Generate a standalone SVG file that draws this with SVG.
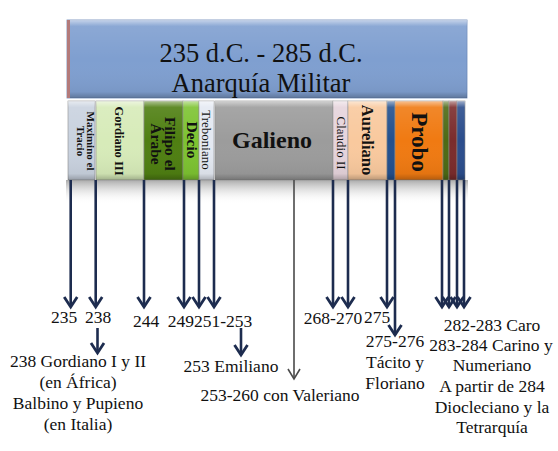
<svg xmlns="http://www.w3.org/2000/svg" width="558" height="451" viewBox="0 0 558 451">
<style>
  .lbl{font-family:"Liberation Serif","Times New Roman",serif;font-size:17.5px;fill:#111;}
  .seg{stroke:#8a8a8a;stroke-width:0.6;}
  .vt{font-family:"Liberation Serif","Times New Roman",serif;fill:#111;text-anchor:middle;}
  .arr{stroke:#1d2c4f;stroke-width:2.6;fill:none;marker-end:url(#ah);}
  .ttl{font-family:"Liberation Serif","Times New Roman",serif;font-size:26.5px;fill:#111;text-anchor:middle;}
</style>
<defs>
  <linearGradient id="gloss" x1="0" y1="0" x2="0" y2="1">
    <stop offset="0" stop-color="#fff" stop-opacity="0.55"/>
    <stop offset="0.08" stop-color="#fff" stop-opacity="0.1"/>
    <stop offset="0.5" stop-color="#fff" stop-opacity="0"/>
    <stop offset="0.92" stop-color="#000" stop-opacity="0.05"/>
    <stop offset="1" stop-color="#000" stop-opacity="0.25"/>
  </linearGradient>
  <linearGradient id="shadow" x1="0" y1="0" x2="0" y2="1">
    <stop offset="0" stop-color="#8f8f8f" stop-opacity="0.75"/>
    <stop offset="1" stop-color="#ffffff" stop-opacity="0"/>
  </linearGradient>
  <marker id="ah" markerUnits="userSpaceOnUse" markerWidth="20" markerHeight="20" orient="auto" refX="0" refY="0" overflow="visible">
    <path d="M-10,-6.5 L0,0 L-10,6.5" fill="none" stroke="#1d2c4f" stroke-width="2.8" stroke-linejoin="miter"/>
  </marker>
  <marker id="ahg" markerUnits="userSpaceOnUse" markerWidth="20" markerHeight="20" orient="auto" refX="0" refY="0" overflow="visible">
    <path d="M-10,-6 L0,0 L-10,6" fill="none" stroke="#4a4a4a" stroke-width="1.6"/>
  </marker>
</defs>
<rect width="558" height="451" fill="#fff"/>

<!-- shadow beneath bar -->
<rect x="66" y="180" width="402" height="24" fill="url(#shadow)"/>

<g id="title">
  <rect x="67" y="20" width="400" height="78" fill="#7f9fd0" stroke="#6d89b8" stroke-width="0.8"/>
  <rect x="67" y="20" width="400" height="78" fill="url(#gloss)"/>
  <rect x="67" y="20" width="3" height="78" fill="#b37a7a"/>
  <text class="ttl" x="261" y="62">235 d.C. - 285 d.C.</text>
  <text class="ttl" x="261" y="92">Anarquía Militar</text>
</g>

<g id="maximino">
  <rect class="seg" x="68" y="101" width="27" height="79" fill="#c9d2df"/>
  <rect x="68" y="101" width="27" height="79" fill="url(#gloss)"/>
  <g transform="translate(86,141) rotate(90)"><text class="vt" font-size="11" font-weight="bold" y="-1">Maximino el</text><text class="vt" font-size="11" font-weight="bold" y="9">Tracio</text></g>
</g>
<g id="gordiano3">
  <rect class="seg" x="96" y="101" width="48" height="79" fill="#d7ebb9"/>
  <rect x="96" y="101" width="48" height="79" fill="url(#gloss)"/>
  <text class="vt" font-size="12.5" font-weight="bold" transform="translate(115,141) rotate(90)">Gordiano III</text>
</g>
<g id="filipo">
  <rect class="seg" x="144" y="101" width="39" height="79" fill="#4f7f12"/>
  <rect x="144" y="101" width="39" height="79" fill="url(#gloss)"/>
  <g transform="translate(163,144) rotate(90)"><text class="vt" font-size="15.5" font-weight="bold" y="-2">Filipo el</text><text class="vt" font-size="15.5" font-weight="bold" y="12">Árabe</text></g>
</g>
<g id="decio">
  <rect class="seg" x="183" y="101" width="16" height="79" fill="#7dc331"/>
  <rect x="183" y="101" width="16" height="79" fill="url(#gloss)"/>
  <text class="vt" font-size="15.5" font-weight="bold" transform="translate(187,140) rotate(90)">Decio</text>
</g>
<g id="treboniano">
  <rect class="seg" x="199" y="101" width="15" height="79" fill="#e4e9f2"/>
  <rect x="199" y="101" width="15" height="79" fill="url(#gloss)"/>
  <text class="vt" font-size="13" transform="translate(202,140) rotate(90)">Treboniano</text>
</g>
<g id="galieno">
  <rect class="seg" x="215" y="101" width="118" height="79" fill="#9c9c9c"/>
  <rect x="215" y="101" width="118" height="79" fill="url(#gloss)"/>
  <text class="vt" x="272" y="148" font-size="24" font-weight="bold">Galieno</text>
</g>
<g id="claudio">
  <rect class="seg" x="333" y="101" width="15" height="79" fill="#e6d4dc"/>
  <rect x="333" y="101" width="15" height="79" fill="url(#gloss)"/>
  <text class="vt" font-size="13" transform="translate(337,143) rotate(90)">Claudio II</text>
</g>
<g id="aureliano">
  <rect class="seg" x="348" y="101" width="39" height="79" fill="#f9c99e"/>
  <rect x="348" y="101" width="39" height="79" fill="url(#gloss)"/>
  <text class="vt" font-size="16.5" font-weight="bold" transform="translate(362,140) rotate(90)">Aureliano</text>
</g>
<g id="tacito">
  <rect class="seg" x="387" y="101" width="8" height="79" fill="#23508e"/>
  <rect x="387" y="101" width="8" height="79" fill="url(#gloss)"/>
</g>
<g id="probo">
  <rect class="seg" x="395" y="101" width="48" height="79" fill="#f07a12"/>
  <rect x="395" y="101" width="48" height="79" fill="url(#gloss)"/>
  <text class="vt" font-size="23" font-weight="bold" transform="translate(412,142) rotate(90)">Probo</text>
</g>
<g id="caro">
  <rect class="seg" x="443" y="101" width="6" height="79" fill="#4d6a14"/>
  <rect x="443" y="101" width="6" height="79" fill="url(#gloss)"/>
</g>
<g id="carino">
  <rect class="seg" x="449" y="101" width="8" height="79" fill="#7b2c2c"/>
  <rect x="449" y="101" width="8" height="79" fill="url(#gloss)"/>
</g>
<g id="diocleciano">
  <rect class="seg" x="457" y="101" width="8" height="79" fill="#2b4d8c"/>
  <rect x="457" y="101" width="8" height="79" fill="url(#gloss)"/>
</g>

<g id="connectors">
  <line class="arr" x1="70.7" y1="180" x2="70.7" y2="307"/>
  <line class="arr" x1="95.7" y1="180" x2="95.7" y2="307"/>
  <line class="arr" x1="144" y1="180" x2="144" y2="307"/>
  <line class="arr" x1="184" y1="180" x2="184" y2="307"/>
  <line class="arr" x1="199" y1="180" x2="199" y2="307"/>
  <line class="arr" x1="214" y1="180" x2="214" y2="307"/>
  <line x1="294" y1="180" x2="294" y2="379" stroke="#4a4a4a" stroke-width="1.6" marker-end="url(#ahg)"/>
  <line class="arr" x1="333" y1="180" x2="333" y2="307"/>
  <line class="arr" x1="348" y1="180" x2="348" y2="307"/>
  <line class="arr" x1="387" y1="180" x2="387" y2="307"/>
  <line class="arr" x1="395" y1="180" x2="395" y2="335"/>
  <line class="arr" x1="442" y1="180" x2="442" y2="307"/>
  <line class="arr" x1="449" y1="180" x2="449" y2="307"/>
  <line class="arr" x1="457" y1="180" x2="457" y2="307"/>
  <line class="arr" x1="464" y1="180" x2="464" y2="307"/>
  <line class="arr" x1="97.5" y1="328" x2="97.5" y2="353"/>
  <line class="arr" x1="241" y1="328" x2="241" y2="355"/>
</g>

<g id="labels">
  <text class="lbl" x="64" y="323" text-anchor="middle">235</text>
  <text class="lbl" x="98" y="323" text-anchor="middle">238</text>
  <text class="lbl" x="146" y="327" text-anchor="middle">244</text>
  <text class="lbl" x="210" y="327" text-anchor="middle">249251-253</text>
  <text class="lbl" x="333" y="324" text-anchor="middle">268-270</text>
  <text class="lbl" x="377" y="323" text-anchor="middle">275</text>
  <text class="lbl" text-anchor="middle"><tspan x="395" y="347">275-276</tspan><tspan x="395" y="368">Tácito y</tspan><tspan x="395" y="389">Floriano</tspan></text>
  <text class="lbl" text-anchor="middle"><tspan x="492" y="331">282-283 Caro</tspan><tspan x="491" y="351">283-284 Carino y</tspan><tspan x="492" y="371">Numeriano</tspan><tspan x="492" y="392">A partir de 284</tspan><tspan x="492" y="413">Diocleciano y la</tspan><tspan x="492" y="433">Tetrarquía</tspan></text>
  <text class="lbl" text-anchor="middle"><tspan x="78" y="367">238 Gordiano I y II</tspan><tspan x="78" y="388">(en África)</tspan><tspan x="78" y="409">Balbino y Pupieno</tspan><tspan x="78" y="430">(en Italia)</tspan></text>
  <text class="lbl" x="231" y="372" text-anchor="middle">253 Emiliano</text>
  <text class="lbl" x="280" y="401" text-anchor="middle">253-260 con Valeriano</text>
</g>
</svg>
